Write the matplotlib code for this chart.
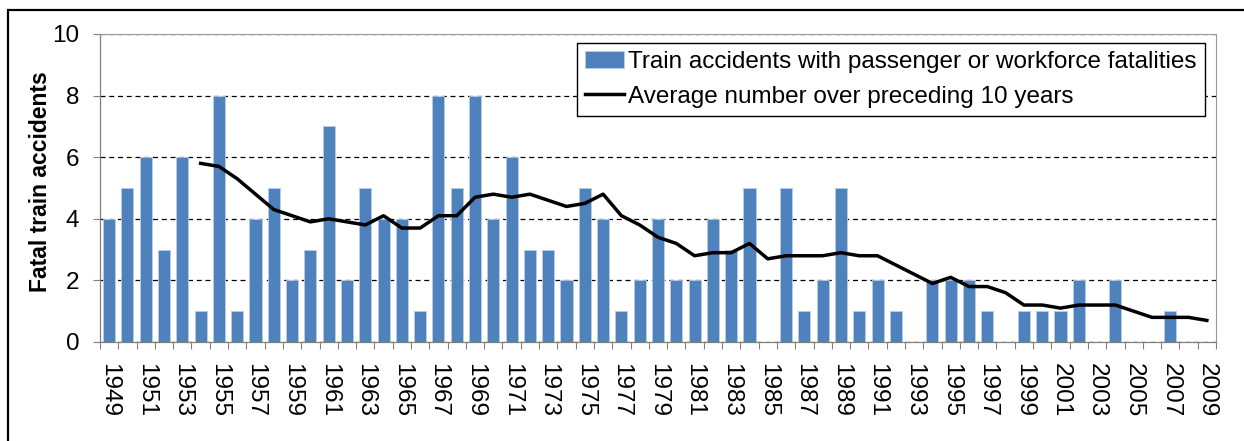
import numpy as np
import matplotlib
matplotlib.use("Agg")
import matplotlib.pyplot as plt
from matplotlib.patches import Rectangle

plt.rcParams['font.family'] = ['Liberation Sans', 'DejaVu Sans']

years = list(range(1949, 2010))
accidents = [4, 5, 6, 3, 6, 1, 8, 1, 4, 5,
             2, 3, 7, 2, 5, 4, 4, 1, 8, 5,
             8, 4, 6, 3, 3, 2, 5, 4, 1, 2,
             4, 2, 2, 4, 3, 5, 0, 5, 1, 2,
             5, 1, 2, 1, 0, 2, 2, 2, 1, 0,
             1, 1, 1, 2, 0, 2, 0, 0, 1, 0, 0]
avg_years = list(range(1954, 2010))
avg_10yr = [5.8, 5.7, 5.3, 4.8, 4.3, 4.1, 3.9, 4.0, 3.9, 3.8,
            4.1, 3.7, 3.7, 4.1, 4.1, 4.7, 4.8, 4.7, 4.8, 4.6,
            4.4, 4.5, 4.8, 4.1, 3.8, 3.4, 3.2, 2.8, 2.9, 2.9,
            3.2, 2.7, 2.8, 2.8, 2.8, 2.9, 2.8, 2.8, 2.5, 2.2,
            1.9, 2.1, 1.8, 1.8, 1.6, 1.2, 1.2, 1.1, 1.2, 1.2,
            1.2, 1.0, 0.8, 0.8, 0.8, 0.7]
bar_label = "Train accidents with passenger or workforce fatalities"
line_label = "Average number over preceding 10 years"
y_label = "Fatal train accidents"

W, H = 1244, 441
fig = plt.figure(figsize=(W / 100, H / 100), dpi=100)
ax = fig.add_axes([100 / W, 1 - 342 / H, (1216 - 100) / W, (342 - 34) / H])

x = np.arange(len(years))
bars = ax.bar(x, accidents, width=0.66, color='#4F81BD', edgecolor='#B9CDE5',
              linewidth=0.6, label=bar_label, zorder=3)
xa = np.array([years.index(y) for y in avg_years])
line, = ax.plot(xa, avg_10yr, color='black', linewidth=2.5, label=line_label,
                zorder=4, solid_joinstyle='round')

ax.set_xlim(-0.5, len(years) - 0.5)
ax.set_ylim(0, 10)
ax.set_yticks([0, 2, 4, 6, 8, 10])
ax.yaxis.grid(True, linestyle=(0, (4, 3)), color='black', linewidth=0.9, zorder=0)
ax.set_axisbelow(True)

ax.set_xticks(np.arange(-0.5, len(years), 1), minor=True)
major = np.arange(0, len(years), 2)
ax.set_xticks(major)
ax.set_xticklabels([str(years[i]) for i in major], rotation=-90, fontsize=17.5)
ax.tick_params(axis='x', which='major', length=0, pad=15)
ax.tick_params(axis='x', which='minor', length=5, color='#808080', width=0.8)
ax.tick_params(axis='y', which='major', length=5, color='#808080', width=0.8,
               labelsize=17.5, pad=10)

for s in ['left', 'bottom']:
    ax.spines[s].set_color('#808080')
    ax.spines[s].set_linewidth(0.9)
for s in ['top', 'right']:
    ax.spines[s].set_color('#999999')
    ax.spines[s].set_linewidth(0.8)
    ax.spines[s].set_linestyle((0, (1, 1)))

ax.set_ylabel(y_label, fontsize=16.5, fontweight='bold')
ax.yaxis.set_label_coords(-0.043, 0.52)

leg = ax.legend([bars, line], [bar_label, line_label],
                loc='upper right', bbox_to_anchor=(0.990, 0.971),
                fontsize=17.5, frameon=True, fancybox=False, edgecolor='black',
                framealpha=1, handlelength=1.6, handletextpad=0.15,
                labelspacing=0.5, borderpad=0.35, borderaxespad=0)
leg.get_frame().set_linewidth(1.0)

fig.patches.append(Rectangle((8 / W, -0.5), 2.0, 1.5 - 10 / H,
                             transform=fig.transFigure, fill=False,
                             edgecolor='black', linewidth=1.6))

fig.savefig('out.png', dpi=100)
